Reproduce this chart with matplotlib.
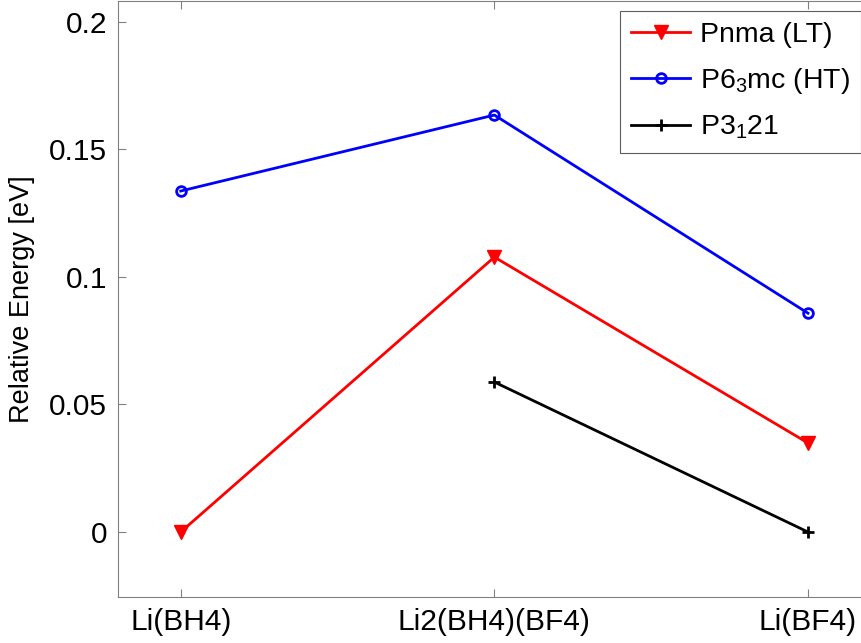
#!/usr/bin/env python3

import numpy as np
import matplotlib
matplotlib.use('Agg')
import matplotlib.pyplot as plt

plt.rcParams['font.family'] = ['Liberation Sans', 'DejaVu Sans']
plt.rcParams['mathtext.fontset'] = 'custom'
plt.rcParams['mathtext.rm'] = 'Liberation Sans'
plt.rcParams['mathtext.it'] = 'Liberation Sans'

compounds = ['Li(BH4)', 'Li2(BH4)(BF4)', 'Li(BF4)']
pos = [1, 2, 3]
pnma = [0.0, 0.1078, 0.0349]
p63mc = [0.1337, 0.1635, 0.0858]
p3121 = [np.nan, 0.0588, 0.0]

fig = plt.figure(figsize=(8.62, 6.43), dpi=100)
ax = fig.add_axes([0.1369, 0.0715, 0.8732, 0.9269])

ax.plot(pos, pnma, color='#ff0000', lw=2, marker='v', ms=10, label='Pnma (LT)')
ax.plot(pos, p63mc, color='#0000ff', lw=2, marker='o', ms=7, mfc='none',
        mew=2, label='P6$_3$mc (HT)')
ax.plot(pos, p3121, color='black', lw=2, marker='+', ms=9, mew=2,
        label='P3$_1$21')

ax.set_xlim(0.8, 3.2)
ax.set_ylim(-0.0255, 0.2082)
ax.set_xticks(pos)
ax.set_xticklabels(compounds)
ax.set_yticks([0, 0.05, 0.1, 0.15, 0.2])
ax.set_yticklabels(['0', '0.05', '0.1', '0.15', '0.2'])
ax.tick_params(direction='in', length=6, color='#808080', labelsize=21.5,
               top=True, right=True, pad=8)
for s in ax.spines.values():
    s.set_color('#808080')
ax.set_ylabel('Relative Energy [eV]', fontsize=19.5, labelpad=10)

leg = ax.legend(loc='upper left', bbox_to_anchor=(620 / 862, 1 - 11 / 643),
                bbox_transform=fig.transFigure, fontsize=20.5, frameon=True,
                fancybox=False, edgecolor='#333333', handlelength=2.05,
                borderaxespad=0, borderpad=0.4, handletextpad=0.35,
                labelspacing=0.62)
leg.get_frame().set_linewidth(0.8)

fig.savefig('out.png', dpi=100)
